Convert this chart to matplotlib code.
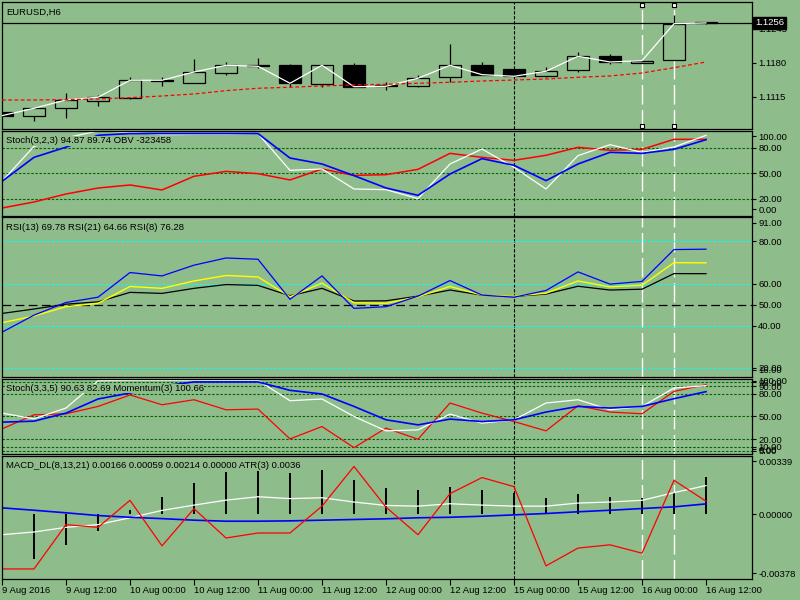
import matplotlib
matplotlib.use("Agg")
import matplotlib.pyplot as plt
import matplotlib.transforms as mtransforms
import numpy as np

BG = "#8fbc8b"
GRID = "#006400"
FS = 6.8
plt.rcParams["font.family"] = ["Liberation Sans", "DejaVu Sans"]
plt.rcParams["font.size"] = FS

# ---- data (one value per 6h bar, 23 bars) ----
tick_pos = [0, 2, 4, 6, 8, 10, 12, 14, 16, 18, 20, 22]
tick_labels = ["9 Aug 2016", "9 Aug 12:00", "10 Aug 00:00", "10 Aug 12:00",
               "11 Aug 00:00", "11 Aug 12:00", "12 Aug 00:00", "12 Aug 12:00",
               "15 Aug 00:00", "15 Aug 12:00", "16 Aug 00:00", "16 Aug 12:00"]

opens = [1.10863, 1.10787, 1.10928, 1.11074, 1.11131, 1.11455, 1.11418, 1.11609,
         1.11750, 1.11750, 1.11387, 1.11750, 1.11368, 1.11360, 1.11521, 1.11750,
         1.11674, 1.11540, 1.11655, 1.11922, 1.11789, 1.11846, 1.12575]
highs = [1.10863, 1.10928, 1.11215, 1.11183, 1.11521, 1.11521, 1.11865, 1.11813,
         1.11884, 1.11781, 1.11762, 1.11794, 1.11431, 1.11559, 1.12163, 1.11813,
         1.11685, 1.11712, 1.12005, 1.11961, 1.11846, 1.12712, 1.12580]
lows = [1.10787, 1.10691, 1.10737, 1.10972, 1.11100, 1.11360, 1.11418, 1.11571,
        1.11693, 1.11341, 1.11341, 1.11330, 1.11278, 1.11330, 1.11431, 1.11559,
        1.11521, 1.11521, 1.11617, 1.11775, 1.11789, 1.11846, 1.12545]
closes = [1.10787, 1.10928, 1.11087, 1.11139, 1.11464, 1.11464, 1.11622, 1.11750,
          1.11731, 1.11406, 1.11750, 1.11341, 1.11349, 1.11502, 1.11750, 1.11571,
          1.11540, 1.11636, 1.11922, 1.11813, 1.11838, 1.12545, 1.12560]
ma_slow = [1.11087, 1.11087, 1.11093, 1.11106, 1.11131, 1.11163, 1.11202, 1.11265,
           1.11311, 1.11330, 1.11355, 1.11374, 1.11387, 1.11406, 1.11425, 1.11450,
           1.11469, 1.11488, 1.11521, 1.11546, 1.11603, 1.11704, 1.11813]
bid = 1.1256

stoch1_main = [40.8, 82, 92, 100, 98.5, 95.7, 96, 96, 97, 53.7, 55.3, 31.8, 31,
               20.4, 61.2, 78.8, 57.3, 31.8, 71, 83.9, 74.9, 81.2, 94.87]
stoch1_signal = [40.8, 69, 81, 95, 97, 97, 97, 97, 97, 68.2, 61.2, 47.5, 33,
                 24.3, 49.4, 67.5, 59.6, 41.6, 61.2, 74.9, 73.7, 78.4, 89.74]
obv_line = [9.4, 16.5, 25.9, 32.9, 36.5, 30.6, 46.7, 52.5, 49.8, 42.4, 55.3, 47.8,
            48.6, 54.9, 73.7, 69, 65.5, 71.4, 80.8, 77.3, 78.4, 90.2, 90.2]

rsi8 = [36.9, 45, 51, 53.5, 65.2, 63.6, 68.7, 72.1, 71.5, 52.5, 63.6, 48.2, 49,
        54, 61.4, 54.5, 53.5, 56.7, 65.5, 59.7, 61, 76.1, 76.28]
rsi13 = [41.4, 44.6, 49, 50.6, 58.6, 57.7, 61.2, 63.8, 63.1, 53.7, 60.2, 50.9, 50.6,
         53.7, 58.6, 54.5, 54, 55.4, 61.2, 58.4, 59.2, 69.9, 69.78]
rsi21 = [45.8, 47.9, 50.2, 51.3, 55.8, 55.3, 57.7, 59.5, 59.1, 54.2, 57.7, 51.7, 51.8,
         54, 56.9, 54.5, 53.9, 55, 58.7, 56.9, 57.3, 64.7, 64.66]

stoch2_main = [54.4, 46.9, 61.1, 97, 97.6, 97.6, 97.6, 97.6, 97.6, 70.7, 73, 50, 31,
               32.3, 53.1, 41.2, 45.6, 67.7, 72, 58.8, 63.2, 87.5, 90.63]
stoch2_signal = [42.5, 43.8, 54.4, 73, 80.9, 90, 95.5, 95.5, 95.5, 84.4, 79.6, 63.2,
                 45.6, 38.9, 46.5, 43.3, 45.6, 55.8, 63.2, 61.1, 63.2, 73.4, 82.69]
momentum = [33.6, 52.2, 53.5, 63.2, 78.3, 65.4, 72, 58.8, 59.7, 20.4, 36.7, 8.9, 34.6,
            20, 67.7, 54.4, 43.3, 31, 64.1, 55.8, 53.5, 83, 91.9]

macd_main = [-0.00121, -0.00105, -0.00078, -0.00062, -0.00022, 0.00021, 0.00052,
             0.00081, 0.00101, 0.0009, 0.00095, 0.0007, 0.0005, 0.00046, 0.0006,
             0.00052, 0.00046, 0.00046, 0.00064, 0.0007, 0.0008, 0.00125, 0.00166]
macd_signal = [0.00036, 0.00022, 0.00007, -0.00009, -0.00019, -0.00027, -0.00036,
               -0.00042, -0.00042, -0.0004, -0.00036, -0.00032, -0.00028, -0.00022,
               -0.00019, -0.00013, -0.00005, 0.00003, 0.00013, 0.00022, 0.00032,
               0.00042, 0.00059]
macd_hist = [np.nan, -0.00262, -0.0018, -0.00097, 0.00022, 0.00099, 0.0018, 0.00243,
             0.00256, 0.00239, 0.00256, 0.00197, 0.00154, 0.00138, 0.0016, 0.00138,
             0.00121, 0.00095, 0.00119, 0.00101, 0.00091, 0.00131, 0.00214]
atr_line = [-0.00321, -0.00321, -0.00062, -0.00078, 0.0008, -0.00186, 0.00031,
            -0.0014, -0.00111, -0.00111, 0.00046, 0.00278, 0.0004, -0.00121,
            0.00119, 0.00213, 0.0016, -0.00303, -0.00199, -0.0018, -0.00229,
            0.00197, 0.00075]

x = np.arange(len(closes))

# ---- layout (pixel bounds of each pane) ----
W, H = 800, 600
fig = plt.figure(figsize=(8, 6), dpi=100, facecolor=BG)


def pane(top, bottom, ylim, ticks, labels):
    ax = fig.add_axes([2 / W, 1 - bottom / H, 750 / W, (bottom - top) / H])
    ax.set_facecolor(BG)
    ax.set_xlim(0, 750 / 32)
    ax.set_ylim(*ylim)
    for s in ax.spines.values():
        s.set_linewidth(0.9)
    ax.yaxis.tick_right()
    ax.set_yticks(ticks)
    ax.set_yticklabels(labels)
    ax.tick_params(axis="y", length=3, width=0.8, pad=1.5, labelsize=FS)
    ax.tick_params(axis="x", bottom=False, labelbottom=False)
    return ax


def label(ax, txt):
    ax.annotate(txt, xy=(0, 1), xycoords="axes fraction", xytext=(4, -10),
                textcoords="offset pixels", va="center", fontsize=FS, zorder=6,
                bbox=dict(facecolor=BG, edgecolor="none", pad=0.3))


def markers(ax):
    ax.axvline(16, color="k", lw=0.8, dashes=(3, 1.5), zorder=1)
    for v in (20, 21):
        ax.axvline(v, color="white", lw=1, dashes=(14, 4), zorder=1)


# main price pane
ax1 = pane(2, 129, (1.10532, 1.12960), [1.1245, 1.1180, 1.1115],
           ["1.1245", "1.1180", "1.1115"])
markers(ax1)
body = np.array(closes) - np.array(opens)
colors = ["black" if b < 0 else BG for b in body]
ax1.vlines(x, lows, highs, color="k", lw=0.9, zorder=2)
ax1.bar(x, body, bottom=opens, width=0.69, color=colors, edgecolor="k",
        linewidth=0.9, zorder=3)
ax1.plot(x, closes, color="white", lw=0.9, zorder=4)
ax1.plot(x, ma_slow, color="red", lw=0.9, dashes=(3, 2), zorder=4)
ax1.axhline(bid, color="k", lw=0.9, zorder=2)
trans = mtransforms.blended_transform_factory(ax1.transAxes, ax1.transData)
ax1.text(1.004, bid, "1.1256", transform=trans, color="white", va="center",
         ha="left", fontsize=FS, zorder=10, clip_on=False,
         bbox=dict(facecolor="black", edgecolor="black", pad=1.2))
tr2 = mtransforms.blended_transform_factory(ax1.transData, ax1.transAxes)
ax1.plot([20, 21, 20, 21], [0.976, 0.976, 0.024, 0.024], "s", ms=3, mfc="white",
         mec="black", mew=0.8, transform=tr2, zorder=6, clip_on=False)
label(ax1, "EURUSD,H6")

# Stoch(3,2,3) + OBV
ax2 = pane(131, 216, (0, 100), [94.1, 80, 50, 20, 8.2],
           ["100.00", "80.00", "50.00", "20.00", "0.00"])
markers(ax2)
for lv in (80, 50, 20):
    ax2.axhline(lv, color=GRID, lw=0.8, dashes=(2.2, 1.5))
ax2.plot(x, obv_line, color="red", lw=1.1)
ax2.plot(x, stoch1_main, color="white", lw=0.9)
ax2.plot(x, stoch1_signal, color="blue", lw=1.2)
label(ax2, "Stoch(3,2,3) 94.87 89.74 OBV -323458")

# RSI
ax3 = pane(217.5, 376.5, (15.9, 91.3), [88.8, 80, 60, 50, 40, 20, 19.2],
           ["91.00", "80.00", "60.00", "50.00", "40.00", "20.00", "16.00"])
markers(ax3)
for lv in (80, 60, 40, 20):
    ax3.axhline(lv, color="cyan", lw=0.8, dashes=(2.2, 1.5))
ax3.axhline(50, color="black", lw=0.9, dashes=(7, 3.5))
ax3.plot(x, rsi21, color="black", lw=0.9)
ax3.plot(x, rsi13, color="yellow", lw=1.0)
ax3.plot(x, rsi8, color="blue", lw=0.9)
label(ax3, "RSI(13) 69.78 RSI(21) 64.66 RSI(8) 76.28")

# Stoch(3,3,5) + Momentum
ax4 = pane(378.5, 454.4, (0, 100), [97.2, 95, 90, 80, 50, 20, 10, 5, 6.5],
           ["100.00", "95.00", "90.00", "80.00", "50.00", "20.00", "10.00",
            "5.00", "0.00"])
markers(ax4)
for lv in (95, 90, 80, 50, 20, 10, 5):
    ax4.axhline(lv, color=GRID, lw=0.8, dashes=(2.2, 1.5))
ax4.plot(x, momentum, color="red", lw=0.9)
ax4.plot(x, stoch2_main, color="white", lw=0.9)
ax4.plot(x, stoch2_signal, color="blue", lw=1.2)
label(ax4, "Stoch(3,3,5) 90.63 82.69 Momentum(3) 100.66")

# MACD + ATR
ax5 = pane(456, 578.7, (-0.00378, 0.00339), [0.003075, 0.0, -0.003463],
           ["0.00339", "0.00000", "-0.00378"])
markers(ax5)
ax5.vlines(x, 0, macd_hist, color="black", lw=1.4)
ax5.plot(x, macd_main, color="white", lw=0.9)
ax5.plot(x, macd_signal, color="blue", lw=1.2)
ax5.plot(x, atr_line, color="red", lw=0.9)
ax5.set_xticks(tick_pos)
ax5.set_xticklabels(tick_labels, ha="left")
ax5.tick_params(axis="x", bottom=True, labelbottom=True, length=4, width=0.8,
                pad=1.5, labelsize=FS)
label(ax5, "MACD_DL(8,13,21) 0.00166 0.00059 0.00214 0.00000 ATR(3) 0.0036")

fig.savefig("out.png", dpi=100, facecolor=BG)
